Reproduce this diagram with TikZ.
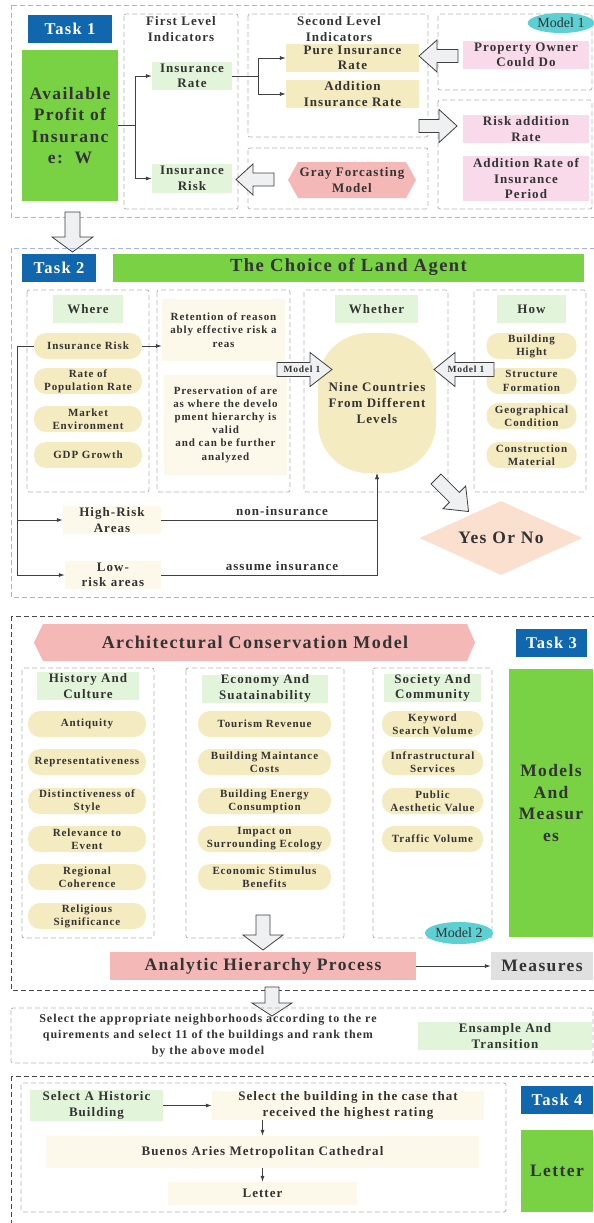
\documentclass[tikz,border=0pt]{standalone}
\usepackage{fontspec}
\setmainfont{Liberation Serif}[LetterSpace=8]
\newfontfamily\tagfont{Liberation Serif}
\usetikzlibrary{shapes.geometric,arrows.meta}

\definecolor{taskblue}{HTML}{1167AD}
\definecolor{boxgreen}{HTML}{78D244}
\definecolor{lightgreen}{HTML}{E2F5DA}
\definecolor{pillyellow}{HTML}{F5EBC1}
\definecolor{pinkbox}{HTML}{F9DAEA}
\definecolor{salmon}{HTML}{F4B8B6}
\definecolor{cream}{HTML}{FCF8EA}
\definecolor{tealmodel}{HTML}{5CD0D2}
\definecolor{peach}{HTML}{FBE0CF}
\definecolor{measgray}{HTML}{E0E0E0}
\definecolor{dashblue}{HTML}{A8AEF0}
\definecolor{dashgray}{HTML}{B4B4B4}
\definecolor{dashdark}{HTML}{4A4A4A}
\definecolor{arrowfill}{HTML}{EEF0F2}
\definecolor{txt}{HTML}{333333}
\definecolor{wirecol}{HTML}{404040}

\tikzset{
  every node/.style={text=txt, align=center, inner sep=0pt},
  sz/.style 2 args={minimum width=#1, minimum height=#2},
  midfont/.style={font=\bfseries\fontsize{13}{15.5}\selectfont},
  smallfont/.style={font=\bfseries\fontsize{11}{13.2}\selectfont},
  tasklabel/.style={fill=taskblue, text=white, font=\bfseries\fontsize{16.5}{20}\selectfont},
  bigbox/.style={fill=boxgreen, font=\bfseries\fontsize{17.5}{21.5}\selectfont},
  hdbox/.style={fill=lightgreen, midfont},
  yelbox/.style={fill=pillyellow, midfont},
  pinkitem/.style={fill=pinkbox, midfont},
  areabox/.style={fill=cream, midfont},
  pill/.style={fill=pillyellow, rounded corners=12pt, smallfont},
  creambox/.style={fill=cream, smallfont},
  titletext/.style={midfont},
  tagbold/.style={font=\bfseries\fontsize{9.5}{11}\selectfont},
  modeltag/.style={ellipse, fill=tealmodel, font=\tagfont\fontsize{14}{16}\selectfont},
  grp/.style={draw=dashgray, dash pattern=on 5pt off 3pt, line width=0.8pt, rounded corners=2pt},
  taskgrp/.style={draw=dashblue, dash pattern=on 5pt off 3pt, line width=0.8pt},
  darkgrp/.style={draw=dashdark, dash pattern=on 5pt off 3pt, line width=0.9pt},
  wire/.style={draw=wirecol, line width=0.8pt, -{Latex[length=6pt,width=4pt]}},
  blockarrow/.style={draw=wirecol, fill=arrowfill, line width=0.8pt},
}

% hollow arrow: tail x, tail y, angle, length, head length, head width, shaft width
\newcommand{\hollowarrow}[7]{%
  \begin{scope}[shift={(#1,#2)}, rotate=#3]
    \draw[blockarrow] (0,-#7/2) -- (#4-#5,-#7/2) -- (#4-#5,-#6/2) -- (#4,0)
      -- (#4-#5,#6/2) -- (#4-#5,#7/2) -- (0,#7/2) -- cycle;
  \end{scope}}

\begin{document}
\begin{tikzpicture}[x=1pt, y=-1pt]
\useasboundingbox (0,0) rectangle (594,1223);

% Task 1
\draw[taskgrp] (11,5) rectangle (598,217);
\draw[grp] (124,14) rectangle (238,209);
\draw[grp] (248,14) rectangle (428,137);
\draw[grp] (248,148) rectangle (428,209);
\draw[grp] (438,14) rectangle (592,90);
\draw[grp] (438,100) rectangle (592,209);

\node[tasklabel, sz={84}{28}] (task1) at (70,29) {Task 1};
\node[bigbox, sz={96}{151}] (profit) at (70,125.5) {Available\\Profit of\\Insuranc\\e:~~W};
\node[titletext] (lvl1) at (181,29) {First Level\\Indicators};
\node[hdbox, sz={80}{28}] (irate) at (192,76) {Insurance\\Rate};
\node[hdbox, sz={80}{29}] (irisk) at (192,178.5) {Insurance\\Risk};
\node[titletext] (lvl2) at (339,29) {Second Level\\Indicators};
\node[yelbox, sz={133}{28}] (pure) at (352.5,58) {Pure Insurance\\Rate};
\node[yelbox, sz={133}{28}] (extra) at (352.5,94) {Addition\\Insurance Rate};
\node[modeltag, sz={66}{20}] (m1) at (561,23) {Model 1};
\node[pinkitem, sz={126}{28}] (owner) at (526,55) {Property Owner\\Could Do};
\node[pinkitem, sz={126}{28}] (riskadd) at (526,129) {Risk addition\\Rate};
\node[pinkitem, sz={126}{45}] (period) at (526,178.5) {Addition Rate of\\Insurance\\Period};
\fill[salmon] (288,180) -- (298,162) -- (406,162) -- (416,180) -- (406,198) -- (298,198) -- cycle;
\node[midfont] (gray) at (352,180) {Gray Forcasting\\Model};

\draw[wire] (profit.east) -- ++(17,0) |- (irate.west);
\draw[wire] (profit.east) -- ++(17,0) |- (irisk.west);
\draw[wire] (irate.east) -- ++(26,0) |- (pure.west);
\draw[wire] (irate.east) -- ++(26,0) |- (extra.west);

\hollowarrow{458}{56}{180}{39}{18}{32}{13}
\hollowarrow{419}{126}{0}{38}{18}{33}{13}
\hollowarrow{274}{179.5}{180}{38}{17}{31}{13}
\hollowarrow{72.5}{212}{-90}{40}{15}{41}{15}

% Task 2
\draw[taskgrp] (11,248) rectangle (598,597);
\draw[grp] (27,290) rectangle (149,492);
\draw[grp] (157,290) rectangle (290,492);
\draw[grp] (304,290) rectangle (448,492);
\draw[grp] (474,290) rectangle (586,492);

\node[tasklabel, sz={74}{28}] (task2) at (59,267.5) {Task 2};
\node[bigbox, sz={471}{28}, font=\bfseries\fontsize{18.5}{22}\selectfont] (choice) at (348.5,267.5) {The Choice of Land Agent};

\node[hdbox, sz={70}{28}] (where) at (88,309) {Where};
\node[pill, sz={108}{26}] (wrisk) at (88,346) {Insurance Risk};
\node[pill, sz={108}{26}] (wpop) at (88,381) {Rate of\\Population Rate};
\node[pill, sz={108}{26}] (wmarket) at (88,419) {Market\\Environment};
\node[pill, sz={108}{26}] (wgdp) at (88,455) {GDP Growth};

\node[creambox, sz={123}{62}] (retain) at (223.5,330) {Retention of reason\\ably effective risk a\\reas};
\node[creambox, sz={123}{100}] (preserve) at (225.5,424.5) {Preservation of are\\as where the develo\\pment hierarchy is\\valid\\and can be further\\analyzed};

\node[hdbox, sz={83}{28}] (whether) at (376.5,309) {Whether};
\node[fill=pillyellow, rounded corners=50pt, sz={118}{140}, font=\bfseries\fontsize{13}{16}\selectfont] (nine) at (377,403) {Nine Countries\\From Different\\Levels};

\node[hdbox, sz={69}{28}] (how) at (531.5,309) {How};
\node[pill, sz={90}{26}] (hbuild) at (531.5,346) {Building\\Hight};
\node[pill, sz={90}{26}] (hstruct) at (531.5,381) {Structure\\Formation};
\node[pill, sz={90}{26}] (hgeo) at (531.5,416) {Geographical\\Condition};
\node[pill, sz={90}{26}] (hmat) at (531.5,455) {Construction\\Material};

\node[areabox, sz={98}{28}] (high) at (112,520) {High-Risk\\Areas};
\node[areabox, sz={96}{28}] (low) at (113,575) {Low-\\risk areas};
\node[diamond, aspect=2.2, fill=peach, sz={163}{74}, font=\bfseries\fontsize{17.5}{20}\selectfont] (yesno) at (501,538) {Yes Or No};

\coordinate (rail) at (17,520);
\draw[wire] (wrisk.east) -- (retain.west |- wrisk.east);
\draw[wire] (wrisk.west) -| (rail) -- (high.west);
\draw[wire] (rail) |- (low.west);
\draw[wire] (high.east) -| node[pos=0.28, above=4pt, midfont] (nonins) {non-insurance} (nine.south);
\draw[wire] (low.east) -| node[pos=0.28, above=4pt, midfont] (assume) {assume insurance} (nine.south);

\hollowarrow{277}{369.5}{0}{55}{22}{34}{14}
\node[tagbold] (tagl) at (302,369.5) {Model 1};
\hollowarrow{494}{369.5}{180}{60}{21}{34}{14}
\node[tagbold] (tagr) at (466,369.5) {Model 1};
\hollowarrow{436}{479}{-45}{46}{20}{32}{14}

% Task 3
\draw[darkgrp] (11,616) rectangle (598,990);
\fill[salmon] (34,642.5) -- (43,624) -- (467,624) -- (475,642.5) -- (467,661) -- (43,661) -- cycle;
\node[font=\bfseries\fontsize{18}{20}\selectfont] (acm) at (255,642.5) {Architectural Conservation Model};
\node[tasklabel, sz={71}{28}] (task3) at (551.5,643) {Task 3};
\node[bigbox, sz={84}{268}] (models) at (551,803) {Models\\And\\Measur\\es};

\draw[grp] (22,668) rectangle (154,938);
\draw[grp] (186,668) rectangle (344,938);
\draw[grp] (373,668) rectangle (492,938);

\node[hdbox, sz={102}{28}] (hist) at (88,686) {History And\\Culture};
\node[pill, sz={118}{26}] (antiq) at (87,724) {Antiquity};
\node[pill, sz={118}{26}] (repr) at (87,762) {Representativeness};
\node[pill, sz={118}{26}] (distinct) at (87,801) {Distinctiveness of\\Style};
\node[pill, sz={118}{26}] (relev) at (87,839) {Relevance to\\Event};
\node[pill, sz={118}{26}] (region) at (87,877) {Regional\\Coherence};
\node[pill, sz={118}{26}] (relig) at (87,916) {Religious\\Significance};

\node[hdbox, sz={126}{28}] (econ) at (265,688.5) {Economy And\\Suatainability};
\node[pill, sz={133}{26}] (tourism) at (264.5,724) {Tourism Revenue};
\node[pill, sz={133}{26}] (maint) at (264.5,762) {Building Maintance\\Costs};
\node[pill, sz={133}{26}] (energy) at (264.5,801) {Building Energy\\Consumption};
\node[pill, sz={133}{26}] (impact) at (264.5,839) {Impact on\\Surrounding Ecology};
\node[pill, sz={133}{26}] (stimulus) at (264.5,877) {Economic Stimulus\\Benefits};

\node[hdbox, sz={97}{28}] (soc) at (432.5,688) {Society And\\Community};
\node[pill, sz={101}{26}] (keyword) at (432.5,724) {Keyword\\Search Volume};
\node[pill, sz={101}{26}] (infra) at (432.5,762) {Infrastructural\\Services};
\node[pill, sz={101}{26}] (public) at (432.5,801) {Public\\Aesthetic Value};
\node[pill, sz={101}{26}] (traffic) at (432.5,839) {Traffic Volume};
\node[modeltag, sz={68}{22}] (m2) at (459,933) {Model 2};

\hollowarrow{263}{915}{-90}{35}{15}{40}{14}
\node[fill=salmon, sz={306}{28}, font=\bfseries\fontsize{17.5}{20}\selectfont] (ahp) at (263,966) {Analytic Hierarchy Process};
\node[fill=measgray, sz={102}{28}, font=\bfseries\fontsize{17.5}{20}\selectfont] (measures) at (542,966) {Measures};
\draw[wire] (ahp.east) -- (measures.west);

% transition
\hollowarrow{272}{987}{-90}{29}{13}{40}{14}
\draw[grp] (11,1008) rectangle (593,1063);
\node[font=\bfseries\fontsize{12}{16}\selectfont] (select) at (208,1036) {Select the appropriate neighborhoods according to the re\\quirements and select 11 of the buildings and rank them\\by the above model};
\node[hdbox, sz={174}{28}] (ensample) at (505,1036) {Ensample And\\Transition};

% Task 4
\draw[darkgrp] (11,1076) rectangle (598,1230);
\draw[grp] (21,1083) rectangle (506,1212);
\node[tasklabel, sz={72}{28}] (task4) at (557,1100) {Task 4};
\node[bigbox, sz={72}{82}] (lettergreen) at (557,1171) {Letter};
\node[hdbox, sz={133}{31}] (pick) at (96.5,1105.5) {Select A Historic\\Building};
\node[areabox, sz={272}{29}] (best) at (348,1105.5) {Select the building in the case that\\received the highest rating};
\node[areabox, sz={433}{32}] (buenos) at (262.5,1152) {Buenos Aries Metropolitan Cathedral};
\node[areabox, sz={189}{23}] (letter) at (262.5,1193.5) {Letter};
\draw[wire] (pick.east) -- (best.west);
\draw[wire] (buenos.north |- best.south) -- (buenos.north);
\draw[wire] (buenos.south) -- (letter.north);
\end{tikzpicture}
\end{document}
